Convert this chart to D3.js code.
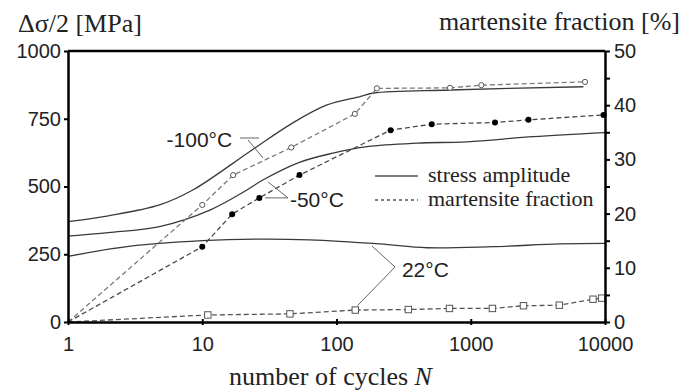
<!DOCTYPE html>
<html>
<head>
<meta charset="utf-8">
<script src="https://cdn.jsdelivr.net/npm/d3@7/dist/d3.min.js"></script>
<style>
  html, body { margin: 0; padding: 0; background: #fff; }
  svg { display: block; }
</style>
</head>
<body>
<svg id="chart" width="684" height="392"></svg>
<script>
// ---- data ----
// stress amplitude (MPa) vs number of cycles
const cyclesStressM100 = [1, 2, 4.8, 8.5, 23.5, 47, 85, 150, 190, 700, 6900];
const stressM100       = [370, 392, 432, 487, 635, 734, 801, 832, 845, 856, 868];
const cyclesStressM50  = [1, 2, 4.8, 11.4, 21.5, 28.3, 53.5, 94, 169, 398, 937, 2910, 10000];
const stressM50        = [317, 330, 352, 413, 487, 524, 590, 623, 647, 660, 665, 684, 699];
const cyclesStress22   = [1, 2.75, 10, 27, 63, 210, 472, 1466, 4620, 10000];
const stress22         = [242, 278, 300, 306, 303, 288, 274, 278, 288, 290];

// martensite fraction (%) vs number of cycles
const cyclesMartM100 = [1, 10, 17, 46, 137, 200, 700, 1200, 7100];
const martM100       = [0, 21.6, 27.1, 32.2, 38.4, 43.1, 43.2, 43.7, 44.3];
const cyclesMartM50  = [1, 10, 16.7, 26.6, 53, 253, 512, 1515, 2690, 9750];
const martM50        = [0, 13.9, 19.9, 22.9, 27.1, 35.4, 36.5, 36.8, 37.3, 38.2];
const cyclesMart22   = [1, 11, 45, 138, 343, 694, 1450, 2470, 4570, 8140, 9440];
const mart22         = [0, 1.3, 1.5, 2.2, 2.3, 2.5, 2.5, 3.0, 3.1, 4.2, 4.4];

// axis ticks
const cycleTicks  = [1, 10, 100, 1000, 10000];
const stressTicks = [0, 250, 500, 750, 1000];
const fractionTicks = [0, 5, 10, 15, 20, 25, 30, 35, 40, 45, 50];

// temperature labels: text anchor and leader segments in data units (N, MPa)
const tempLabels = [
  { text: "-100°C", at: [16.7, 646], anchor: "end",
    leaders: [[[19.1, 679], [26.5, 679]], [[21.9, 672], [28.4, 605]]] },
  { text: "-50°C", at: [45, 424], anchor: "start",
    leaders: [[[43.5, 458], [29.3, 458]], [[43.5, 458], [30.9, 517]]] },
  { text: "22°C", at: [307, 166], anchor: "start",
    leaders: [[[273, 203], [184, 280]], [[273, 203], [143, 60]]] }
];

// ---- layout ----
const plot = { left: 68, right: 605, top: 51, bottom: 322 };
const svg = d3.select("#chart");

const x = d3.scaleLog().domain([1, 10000]).range([plot.left, plot.right]);
const yL = d3.scaleLinear().domain([0, 1000]).range([plot.bottom, plot.top]);
const yR = d3.scaleLinear().domain([0, 50]).range([plot.bottom, plot.top]);

const sans = "'Liberation Sans', Arial, sans-serif";
const serif = "'Liberation Serif', 'Times New Roman', serif";

// ---- curves ----
const zip = (a, b) => a.map((v, i) => [v, b[i]]);
const stressLine = d3.line().x(d => x(d[0])).y(d => yL(d[1])).curve(d3.curveCatmullRom.alpha(0.5));
const martLine = d3.line().x(d => x(d[0])).y(d => yR(d[1]));

const stressSeries = [
  zip(cyclesStressM100, stressM100),
  zip(cyclesStressM50, stressM50),
  zip(cyclesStress22, stress22)
];
svg.append("g").selectAll("path").data(stressSeries).join("path")
  .attr("d", stressLine)
  .attr("fill", "none")
  .attr("stroke", "#3a3a3a")
  .attr("stroke-width", 1.3);

const martSeries = [
  { pts: zip(cyclesMartM100, martM100), color: "#7a7a7a", marker: "openCircle" },
  { pts: zip(cyclesMartM50, martM50), color: "#4a4a4a", marker: "dot" },
  { pts: zip(cyclesMart22, mart22), color: "#555", marker: "square" }
];
martSeries.forEach(s => {
  svg.append("path")
    .attr("d", martLine(s.pts))
    .attr("fill", "none")
    .attr("stroke", s.color)
    .attr("stroke-width", 1.3)
    .attr("stroke-dasharray", "5,3");
  const pts = s.pts.slice(1);
  const g = svg.append("g");
  if (s.marker === "openCircle") {
    g.selectAll("circle").data(pts).join("circle")
      .attr("cx", d => x(d[0])).attr("cy", d => yR(d[1])).attr("r", 2.6)
      .attr("fill", "#fff").attr("stroke", "#555").attr("stroke-width", 1);
  } else if (s.marker === "dot") {
    g.selectAll("circle").data(pts).join("circle")
      .attr("cx", d => x(d[0])).attr("cy", d => yR(d[1])).attr("r", 3)
      .attr("fill", "#000");
  } else {
    g.selectAll("rect").data(pts).join("rect")
      .attr("x", d => x(d[0]) - 3.2).attr("y", d => yR(d[1]) - 3.2)
      .attr("width", 6.4).attr("height", 6.4)
      .attr("fill", "#fff").attr("stroke", "#555").attr("stroke-width", 1);
  }
});

// ---- temperature labels with leaders ----
tempLabels.forEach(l => {
  l.leaders.forEach(seg => {
    svg.append("line")
      .attr("x1", x(seg[0][0])).attr("y1", yL(seg[0][1]))
      .attr("x2", x(seg[1][0])).attr("y2", yL(seg[1][1]))
      .attr("stroke", "#666").attr("stroke-width", 1);
  });
  svg.append("text")
    .attr("x", x(l.at[0])).attr("y", yL(l.at[1]))
    .attr("text-anchor", l.anchor)
    .style("font-family", sans).style("font-size", "21px").attr("fill", "#222")
    .text(l.text);
});

// ---- axes ----
const axisW = 2.5;
const left = svg.append("g").attr("transform", `translate(${plot.left},0)`)
  .call(d3.axisLeft(yL).tickValues(stressTicks).tickSize(4).tickSizeOuter(0).tickPadding(3)
    .tickFormat(d3.format("d")));
const right = svg.append("g").attr("transform", `translate(${plot.right},0)`)
  .call(d3.axisRight(yR).tickValues(fractionTicks).tickSize(5).tickSizeOuter(0).tickPadding(4)
    .tickFormat(d => d % 10 === 0 ? d : ""));
const bottom = svg.append("g").attr("transform", `translate(0,${plot.bottom})`)
  .call(d3.axisBottom(x).tickValues(cycleTicks).tickSize(0).tickSizeOuter(0).tickPadding(15)
    .tickFormat(d3.format("d")));
bottom.selectAll(".tick").append("line").attr("y1", -3).attr("y2", 3)
  .attr("stroke", "#000").attr("stroke-width", 2);

[left, right, bottom].forEach(g => {
  g.select(".domain").attr("stroke", "#000").attr("stroke-width", axisW);
  g.selectAll(".tick line").attr("stroke", "#000").attr("stroke-width", 2);
  g.selectAll("text").style("font-family", sans).style("font-size", "20px").attr("fill", "#222");
});
// top frame
svg.append("line")
  .attr("x1", plot.left).attr("x2", plot.right)
  .attr("y1", plot.top).attr("y2", plot.top)
  .attr("stroke", "#000").attr("stroke-width", axisW);

// ---- titles ----
svg.append("text").attr("x", 18).attr("y", 32)
  .style("font-family", serif).style("font-size", "26px").attr("fill", "#222")
  .text("Δσ/2 [MPa]");
svg.append("text").attr("x", 680).attr("y", 30).attr("text-anchor", "end")
  .style("font-family", serif).style("font-size", "26px").attr("fill", "#222")
  .text("martensite fraction [%]");
const xt = svg.append("text").attr("x", (plot.left + plot.right) / 2 - 6).attr("y", 385)
  .attr("text-anchor", "middle")
  .style("font-family", serif).style("font-size", "26px").attr("fill", "#222");
xt.append("tspan").text("number of cycles ");
xt.append("tspan").style("font-style", "italic").text("N");

// ---- legend ----
const lg = svg.append("g");
const legendItems = [
  { label: "stress amplitude", dash: null, y: 176 },
  { label: "martensite fraction", dash: "3,3", y: 200 }
];
legendItems.forEach(it => {
  lg.append("line").attr("x1", 375).attr("x2", 418).attr("y1", it.y).attr("y2", it.y)
    .attr("stroke", "#000").attr("stroke-width", 1.2)
    .attr("stroke-dasharray", it.dash);
  lg.append("text").attr("x", 428).attr("y", it.y + 6)
    .style("font-family", serif).style("font-size", "22px").attr("fill", "#222")
    .text(it.label);
});
</script>
</body>
</html>
